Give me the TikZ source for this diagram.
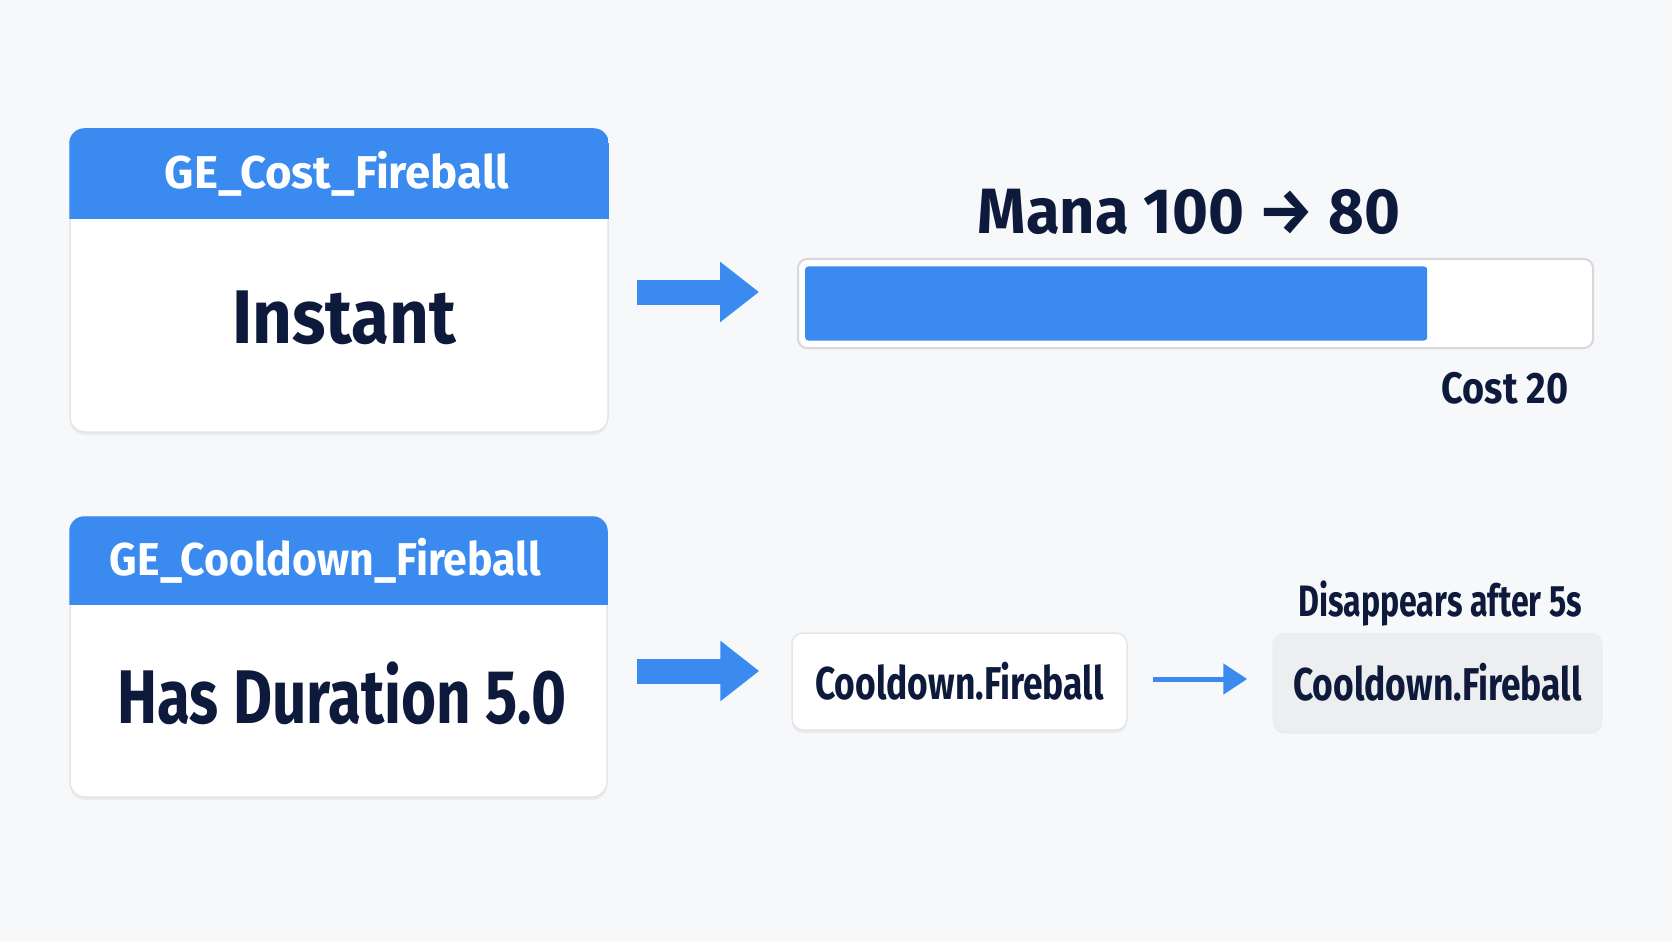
\documentclass[tikz,border=0pt]{standalone}
\usepackage{fontspec}
\usepackage{graphicx}
\setmainfont{Fira Sans}
\usetikzlibrary{arrows.meta,shadows,positioning}
\definecolor{pagebg}{HTML}{F7F8FA}
\definecolor{brand}{HTML}{3A8AF0}
\definecolor{ink}{HTML}{0E1A3C}
\definecolor{edge}{HTML}{E3E5E9}
\definecolor{baredge}{HTML}{D6D8DC}
\definecolor{fadebg}{HTML}{EDEEF0}
% narrower letters, as in the picture
\newcommand{\squeeze}[2]{\scalebox{#1}[1]{#2}}
\tikzset{
  softshadow/.style={drop shadow={shadow xshift=0pt, shadow yshift=-3pt, opacity=0.05, fill=black}},
  card/.style={draw=edge, line width=1.5pt, fill=white, rounded corners=15pt, softshadow, inner sep=0pt},
  headtext/.style={text=white, font=\bfseries\fontsize{46}{50}\selectfont},
  bodytext/.style={text=ink, font=\bfseries\fontsize{76}{80}\selectfont},
  tagbox/.style={draw=edge, line width=1.5pt, fill=white, rounded corners=11pt, softshadow,
    minimum height=97pt, text=ink, font=\bfseries\fontsize{46}{50}\selectfont},
  note/.style={text=ink, font=\bfseries\fontsize{44}{48}\selectfont},
  bigarrow/.style={brand, line width=25pt, -{Triangle[length=39pt, width=58pt]}},
  smallarrow/.style={brand, line width=5pt, -{Triangle[length=24pt, width=30pt]}}
}
\begin{document}
\begin{tikzpicture}[x=1pt,y=-1pt]
\fill[pagebg] (0,0) rectangle (1672,941);
\useasboundingbox (0,0) rectangle (1672,941);

% instant cost effect
\node[card, minimum width=538pt, minimum height=303pt] (costcard) at (339,280.5) {};
\begin{scope}
\clip[rounded corners=15pt] (costcard.south west) rectangle (costcard.north east);
\fill[brand] (costcard.north west) rectangle ([yshift=-91pt]costcard.north east);
\end{scope}
\node[headtext] (costtitle) at ([xshift=-2pt,yshift=-45.5pt]costcard.north) {\squeeze{0.99}{GE\_Cost\_Fireball}};
\node[bodytext] (costbody) at (344,318) {\squeeze{0.91}{Instant}};

% mana bar
\node[text=ink, font=\bfseries\fontsize{64}{68}\selectfont] (manalabel) at (1189,212) {\squeeze{0.96}{Mana 100 → 80}};
\node[draw=baredge, line width=2pt, fill=white, rounded corners=9pt,
  minimum width=795pt, minimum height=89pt] (manabar) at (1195.5,303.5) {};
\node[fill=brand, rounded corners=3pt, minimum width=622pt, minimum height=74pt,
  inner sep=0pt, anchor=west] (manafill) at ([xshift=8pt]manabar.west) {};
\node[note, anchor=east] (costnote) at (1572,388) {\squeeze{0.86}{Cost 20}};

% cooldown effect
\node[card, minimum width=537pt, minimum height=280pt] (cdcard) at (338.5,657) {};
\begin{scope}
\clip[rounded corners=15pt] (cdcard.south west) rectangle (cdcard.north east);
\fill[brand] (cdcard.north west) rectangle ([yshift=-89pt]cdcard.north east);
\end{scope}
\node[headtext] (cdtitle) at ([xshift=-13pt,yshift=-44.5pt]cdcard.north) {\squeeze{0.93}{GE\_Cooldown\_Fireball}};
\node[bodytext] (cdbody) at (342,693) {\squeeze{0.79}{Has Duration 5.0}};

% tags
\node[tagbox, minimum width=335pt] (tagon) at (959.5,681.5) {\squeeze{0.77}{Cooldown.Fireball}};
\node[tagbox, minimum width=329pt, fill=fadebg, draw=fadebg] (tagoff) at (1437.5,682) {\squeeze{0.77}{Cooldown.Fireball}};
\node[note] (offnote) at (1440,604) {\squeeze{0.73}{Disappears after 5s}};

% arrows
\draw[bigarrow] ([xshift=28pt,yshift=-11.5pt]costcard.east) -- ([xshift=-38pt,yshift=11.5pt]manabar.west);
\draw[bigarrow] ([xshift=29pt,yshift=-14pt]cdcard.east) -- ([xshift=-32pt,yshift=10.5pt]tagon.west);
\draw[smallarrow] ([xshift=25pt,yshift=2.5pt]tagon.east) -- ([xshift=-25pt,yshift=3pt]tagoff.west);
\end{tikzpicture}
\end{document}
